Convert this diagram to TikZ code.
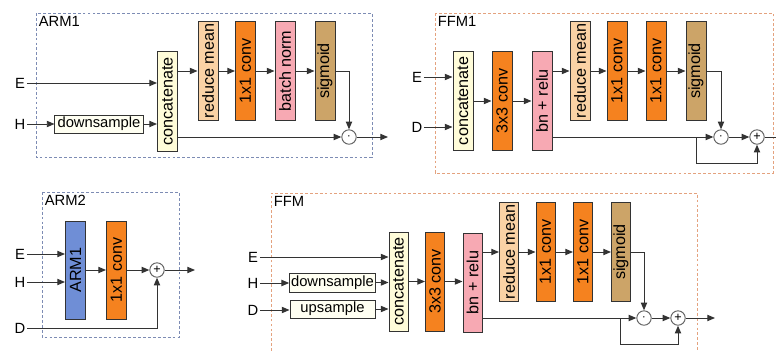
\documentclass[tikz,border=0pt]{standalone}
\usepackage{fontspec}
\setmainfont{Liberation Sans}
\usetikzlibrary{arrows.meta, positioning, calc}
\definecolor{cyellow}{HTML}{FFFCD9}
\definecolor{cpeach}{HTML}{FAD2A5}
\definecolor{corange}{HTML}{F5821F}
\definecolor{cpink}{HTML}{F7A9B3}
\definecolor{ctan}{HTML}{CCA468}
\definecolor{cblue}{HTML}{6F8ED6}
\definecolor{cpale}{HTML}{FFFFF2}
\definecolor{carm}{HTML}{7D8CB4}
\definecolor{cffm}{HTML}{E4A27E}
\definecolor{cline}{HTML}{333333}
\newcommand{\vt}[1]{\rotatebox{90}{#1}}
\tikzset{
  every picture/.style={line width=0.7pt},
  blk/.style={draw=cline, fill=#1, minimum width=0.5cm, minimum height=2.45cm, inner sep=0pt, font=\fontsize{11.5}{13}\selectfont},
  smp/.style={draw=cline, fill=cpale, minimum width=2.15cm, minimum height=0.45cm, inner sep=1pt, font=\fontsize{10.5}{12}\selectfont},
  op/.style={circle, draw=black!60, fill=white, minimum size=0.36cm, inner sep=0pt, font=\fontsize{9}{10}\selectfont},
  inp/.style={inner sep=1pt, font=\fontsize{10.5}{12}\selectfont},
  arrow/.style={-{Triangle[length=5.5pt, width=4.5pt]}, draw=cline},
  wire/.style={draw=cline},
  panel/.style={draw=#1, dash pattern=on 2pt off 1.5pt, line width=0.5pt},
  ptitle/.style={anchor=north west, inner sep=1pt, font=\fontsize{10.5}{12}\selectfont},
}
\begin{document}
\begin{tikzpicture}[x=0.025cm, y=-0.025cm]
  \useasboundingbox (0,0) rectangle (776,350);
  % ARM1: attention refinement on E and H
  \draw[panel=carm] (36,13) rectangle (372,157);
  \node[ptitle] (a1t) at (37,14) {ARM1};
  \node[blk=cyellow, minimum height=2.475cm] (a1cat) at (167.5,101.5) {\vt{concatenate}};
  \node[blk=cpeach] (a1rm) at (208,71) {\vt{reduce mean}};
  \node[blk=corange] (a1cv) at (245.5,71) {\vt{1x1 conv}};
  \node[blk=cpink] (a1bn) at (285,71) {\vt{batch norm}};
  \node[blk=ctan] (a1sg) at (325,71) {\vt{sigmoid}};
  \node[smp, minimum width=2.2cm] (a1ds) at (99,124) {downsample};
  \node[op] (a1mul) at (349,137) {$\cdot$};
  \node[inp] (a1E) at (20,83) {E};
  \node[inp] (a1H) at (20,124) {H};
  \coordinate (a1out) at (388,137);
  \draw[arrow] (a1E) -- (a1E -| a1cat.west);
  \draw[arrow] (a1H) -- (a1ds);
  \draw[arrow] (a1ds) -- (a1cat.west |- a1ds);
  \draw[arrow] (a1cat.east |- a1rm) -- (a1rm);
  \draw[arrow] (a1rm) -- (a1cv);
  \draw[arrow] (a1cv) -- (a1bn);
  \draw[arrow] (a1bn) -- (a1sg);
  \draw[arrow] (a1sg.east) -| (a1mul.north);
  \draw[arrow] (a1cat.east |- a1mul) -- (a1mul);
  \draw[arrow] (a1mul) -- (a1out);

  % FFM1: fusion of E and D
  \draw[panel=cffm] (435,13) rectangle (773,173);
  \node[ptitle] (f1t) at (436,14) {FFM1};
  \node[blk=cyellow] (f1cat) at (463,101) {\vt{concatenate}};
  \node[blk=corange] (f1cv3) at (502,101) {\vt{3x3 conv}};
  \node[blk=cpink] (f1bn) at (542,101) {\vt{bn + relu}};
  \node[blk=cpeach] (f1rm) at (580,71) {\vt{reduce mean}};
  \node[blk=corange] (f1c1) at (617,71) {\vt{1x1 conv}};
  \node[blk=corange] (f1c2) at (656,71) {\vt{1x1 conv}};
  \node[blk=ctan] (f1sg) at (696,71) {\vt{sigmoid}};
  \node[op] (f1mul) at (721,137) {$\cdot$};
  \node[op] (f1add) at (757,137) {+};
  \node[inp] (f1E) at (417,77) {E};
  \node[inp] (f1D) at (417,127) {D};
  \coordinate (f1br) at (696,137);
  \coordinate (f1low) at (696,163);
  \coordinate (f1out) at (776,137);
  \draw[arrow] (f1E) -- (f1E -| f1cat.west);
  \draw[arrow] (f1D) -- (f1D -| f1cat.west);
  \draw[arrow] (f1cat) -- (f1cv3);
  \draw[arrow] (f1cv3) -- (f1bn);
  \draw[arrow] (f1bn.east |- f1rm) -- (f1rm);
  \draw[arrow] (f1rm) -- (f1c1);
  \draw[arrow] (f1c1) -- (f1c2);
  \draw[arrow] (f1c2) -- (f1sg);
  \draw[arrow] (f1sg.east) -| (f1mul.north);
  \draw[arrow] (f1bn.east |- f1mul) -- (f1mul);
  \draw[arrow] (f1mul) -- (f1add);
  \draw[arrow] (f1br) -- (f1low) -| (f1add.south);
  \draw[wire] (f1add) -- (f1out);

  % ARM2: ARM1 followed by 1x1 conv, plus D
  \draw[panel=carm] (42,192) rectangle (179,337);
  \node[ptitle] (a2t) at (43,193) {ARM2};
  \node[blk=cblue] (a2arm) at (75.5,270) {\vt{ARM1}};
  \node[blk=corange] (a2cv) at (116.5,270) {\vt{1x1 conv}};
  \node[op] (a2add) at (157,270) {+};
  \node[inp] (a2E) at (20,254) {E};
  \node[inp] (a2H) at (20,282) {H};
  \node[inp] (a2D) at (20,328) {D};
  \coordinate (a2out) at (195,270);
  \draw[arrow] (a2E) -- (a2E -| a2arm.west);
  \draw[arrow] (a2H) -- (a2H -| a2arm.west);
  \draw[arrow] (a2arm) -- (a2cv);
  \draw[arrow] (a2cv) -- (a2add);
  \draw[arrow] (a2D) -| (a2add.south);
  \draw[arrow] (a2add) -- (a2out);

  % FFM: fusion of E, H and D
  \draw[panel=cffm] (271,351) -- (271,193) -- (697,193) -- (697,351);
  \node[ptitle] (ft) at (272,194) {FFM};
  \tikzset{blk/.append style={minimum width=0.475cm, minimum height=2.475cm}}
  \node[blk=cyellow] (fcat) at (398.5,281.5) {\vt{concatenate}};
  \node[blk=corange] (fcv3) at (435,281.5) {\vt{3x3 conv}};
  \node[blk=cpink] (fbn) at (472.5,282.5) {\vt{bn + relu}};
  \node[blk=cpeach] (frm) at (509,252) {\vt{reduce mean}};
  \node[blk=corange] (fc1) at (545.5,252) {\vt{1x1 conv}};
  \node[blk=corange] (fc2) at (583,252) {\vt{1x1 conv}};
  \node[blk=ctan] (fsg) at (621,252) {\vt{sigmoid}};
  \node[smp, minimum width=2.125cm, minimum height=0.475cm] (fds) at (332.5,282.5) {downsample};
  \node[smp, minimum width=2.125cm] (fus) at (332.5,309) {upsample};
  \node[op] (fmul) at (644,318) {$\cdot$};
  \node[op] (fadd) at (678,318) {+};
  \node[inp] (fE) at (253,257) {E};
  \node[inp] (fH) at (253,283) {H};
  \node[inp] (fD) at (253,310) {D};
  \coordinate (fbr) at (620,318);
  \coordinate (flow) at (620,344);
  \coordinate (fout) at (715,318);
  \draw[arrow] (fE) -- (fE -| fcat.west);
  \draw[arrow] (fH) -- (fH -| fds.west);
  \draw[arrow] (fD) -- (fD -| fus.west);
  \draw[arrow] (fds) -- (fcat.west |- fds);
  \draw[arrow] (fus) -- (fcat.west |- fus);
  \draw[arrow] (fcat) -- (fcv3);
  \draw[arrow] (fcv3) -- (fcv3 -| fbn.west);
  \draw[arrow] (fbn.east |- frm) -- (frm);
  \draw[arrow] (frm) -- (fc1);
  \draw[arrow] (fc1) -- (fc2);
  \draw[arrow] (fc2) -- (fsg);
  \draw[arrow] (fsg.east) -| (fmul.north);
  \draw[arrow] (fbn.east |- fmul) -- (fmul);
  \draw[arrow] (fmul) -- (fadd);
  \draw[arrow] (fbr) -- (flow) -| (fadd.south);
  \draw[arrow] (fadd) -- (fout);
\end{tikzpicture}
\end{document}
